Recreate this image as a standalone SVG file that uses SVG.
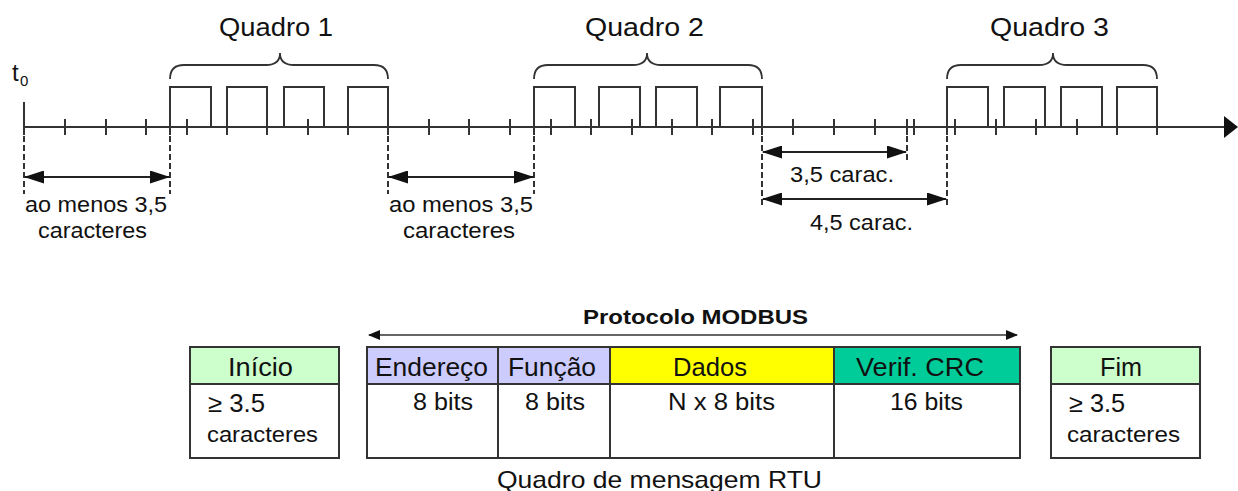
<svg xmlns="http://www.w3.org/2000/svg" width="1238" height="491" viewBox="0 0 1238 491">
<style>
text{font-family:"Liberation Sans",Arial,sans-serif;fill:#111}
.ln{stroke:#333;stroke-width:2;fill:none}
.dash{stroke:#333;stroke-width:2;stroke-dasharray:6,3;fill:none}
.brace{stroke:#333;stroke-width:1.8;fill:none}
.dim{stroke:#222;stroke-width:2;fill:none;marker-start:url(#ah);marker-end:url(#ah)}
.cell{stroke:#333;stroke-width:2}
.lbl{font-size:25px}
.sm{font-size:22px}
.tb{font-size:25px}
.bd{font-size:23px}
</style>
<defs>
<marker id="ah" markerUnits="userSpaceOnUse" markerWidth="20" markerHeight="13" refX="19" refY="6.5" orient="auto-start-reverse">
<path d="M0,0 L20,6.5 L0,13 z" fill="#111"/>
</marker>
<marker id="ahs" markerUnits="userSpaceOnUse" markerWidth="12" markerHeight="10" refX="11" refY="5" orient="auto-start-reverse">
<path d="M0,0 L12,5 L0,10 z" fill="#111"/>
</marker>
</defs>

<g id="timeline">
<line class="ln" x1="24" y1="127" x2="1226" y2="127"/>
<polygon points="1224,116 1238,127 1224,138" fill="#111"/>
<line class="ln" x1="24" y1="102" x2="24" y2="135"/>
<text x="12" y="81" style="font-size:24px">t</text>
<text x="20" y="86" style="font-size:15px">0</text>
<path class="ln" d="M65,119V135 M106,119V135 M146,119V135 M187,119V135 M227,119V135 M267,119V135 M308,119V135 M348,119V135 M388,119V135 M429,119V135 M469,119V135 M510,119V135 M551,119V135 M591,119V135 M632,119V135 M672,119V135 M712,119V135 M753,119V135 M793,119V135 M834,119V135 M875,119V135 M914,119V135 M955,119V135 M996,119V135 M1036,119V135 M1077,119V135 M1117,119V135 M1157,119V135 M170,119V135 M534,119V135 M762,119V135 M907,119V135 M947,119V135"/>
</g>

<g id="quadro1">
<path class="ln" d="M170,127V87H211V127 M227,127V87H267V127 M284,127V87H324V127 M348,127V87H388V127"/>
<path class="brace" d="M170,79 Q170,65 184,65 L266,65 Q280,65 280,53 Q280,65 294,65 L374,65 Q388,65 388,79"/>
<text class="lbl" x="219" y="36" textLength="114" lengthAdjust="spacingAndGlyphs">Quadro 1</text>
</g>

<g id="quadro2">
<path class="ln" d="M534,127V87H575V127 M599,127V87H640V127 M656,127V87H697V127 M720,127V87H762V127"/>
<path class="brace" d="M534,79 Q534,65 548,65 L633,65 Q647,65 647,53 Q647,65 661,65 L748,65 Q762,65 762,79"/>
<text class="lbl" x="585" y="36" textLength="119" lengthAdjust="spacingAndGlyphs">Quadro 2</text>
</g>

<g id="quadro3">
<path class="ln" d="M947,127V87H988V127 M1004,127V87H1045V127 M1061,127V87H1102V127 M1117,127V87H1157V127"/>
<path class="brace" d="M947,79 Q947,65 961,65 L1039,65 Q1053,65 1053,53 Q1053,65 1067,65 L1143,65 Q1157,65 1157,79"/>
<text class="lbl" x="990" y="36" textLength="119" lengthAdjust="spacingAndGlyphs">Quadro 3</text>
</g>

<g id="connectors">
<path class="dash" d="M24,127V194 M170,127V194 M388,127V194 M534,127V194 M762,127V208 M907,127V163 M947,127V208"/>
<line class="dim" x1="25" y1="177" x2="169" y2="177"/>
<line class="dim" x1="389" y1="177" x2="533" y2="177"/>
<line class="dim" x1="763" y1="152" x2="906" y2="152"/>
<line class="dim" x1="763" y1="199" x2="946" y2="199"/>
<line x1="369" y1="335" x2="1017" y2="335" stroke="#333" stroke-width="1.6" marker-start="url(#ahs)" marker-end="url(#ahs)"/>
</g>

<g id="gap-labels">
<text class="sm" x="25" y="212" textLength="142" lengthAdjust="spacingAndGlyphs">ao menos 3,5</text>
<text class="sm" x="38" y="238" textLength="109" lengthAdjust="spacingAndGlyphs">caracteres</text>
<text class="sm" x="389" y="212" textLength="144" lengthAdjust="spacingAndGlyphs">ao menos 3,5</text>
<text class="sm" x="403" y="238" textLength="112" lengthAdjust="spacingAndGlyphs">caracteres</text>
<text class="sm" x="790" y="182" textLength="104" lengthAdjust="spacingAndGlyphs">3,5 carac.</text>
<text class="sm" x="810" y="230" textLength="103" lengthAdjust="spacingAndGlyphs">4,5 carac.</text>
</g>

<text x="583" y="324" style="font-size:20px;font-weight:bold" textLength="225" lengthAdjust="spacingAndGlyphs">Protocolo MODBUS</text>

<g id="inicio">
<rect class="cell" x="190" y="347" width="149" height="37" fill="#ccffcc"/>
<rect class="cell" x="190" y="384" width="149" height="74" fill="#fff"/>
<text class="tb" x="228" y="376" textLength="65" lengthAdjust="spacingAndGlyphs">Início</text>
<text class="tb" x="208" y="412" textLength="57" lengthAdjust="spacingAndGlyphs">≥ 3.5</text>
<text class="sm" x="207" y="442" textLength="111" lengthAdjust="spacingAndGlyphs">caracteres</text>
</g>

<g id="endereco">
<rect class="cell" x="367" y="347" width="131" height="37" fill="#ccccff"/>
<rect class="cell" x="367" y="384" width="131" height="74" fill="#fff"/>
<text class="tb" x="375" y="376" textLength="113" lengthAdjust="spacingAndGlyphs">Endereço</text>
<text class="bd" x="413" y="410" textLength="60" lengthAdjust="spacingAndGlyphs">8 bits</text>
</g>

<g id="funcao">
<rect class="cell" x="498" y="347" width="112" height="37" fill="#ccccff"/>
<rect class="cell" x="498" y="384" width="112" height="74" fill="#fff"/>
<text class="tb" x="508" y="376" textLength="88" lengthAdjust="spacingAndGlyphs">Função</text>
<text class="bd" x="525" y="410" textLength="60" lengthAdjust="spacingAndGlyphs">8 bits</text>
</g>

<g id="dados">
<rect class="cell" x="610" y="347" width="224" height="37" fill="#ffff00"/>
<rect class="cell" x="610" y="384" width="224" height="74" fill="#fff"/>
<text class="tb" x="673" y="376" textLength="74" lengthAdjust="spacingAndGlyphs">Dados</text>
<text class="bd" x="668" y="410" textLength="107" lengthAdjust="spacingAndGlyphs">N x 8 bits</text>
</g>

<g id="crc">
<rect class="cell" x="834" y="347" width="186" height="37" fill="#00cc99"/>
<rect class="cell" x="834" y="384" width="186" height="74" fill="#fff"/>
<text class="tb" x="856" y="376" textLength="128" lengthAdjust="spacingAndGlyphs">Verif. CRC</text>
<text class="bd" x="890" y="410" textLength="73" lengthAdjust="spacingAndGlyphs">16 bits</text>
</g>

<g id="fim">
<rect class="cell" x="1051" y="347" width="149" height="37" fill="#ccffcc"/>
<rect class="cell" x="1051" y="384" width="149" height="74" fill="#fff"/>
<text class="tb" x="1100" y="376" textLength="42" lengthAdjust="spacingAndGlyphs">Fim</text>
<text class="tb" x="1069" y="412" textLength="56" lengthAdjust="spacingAndGlyphs">≥ 3.5</text>
<text class="sm" x="1067" y="442" textLength="113" lengthAdjust="spacingAndGlyphs">caracteres</text>
</g>

<text x="497" y="488" style="font-size:24px" textLength="325" lengthAdjust="spacingAndGlyphs">Quadro de mensagem RTU</text>
</svg>
